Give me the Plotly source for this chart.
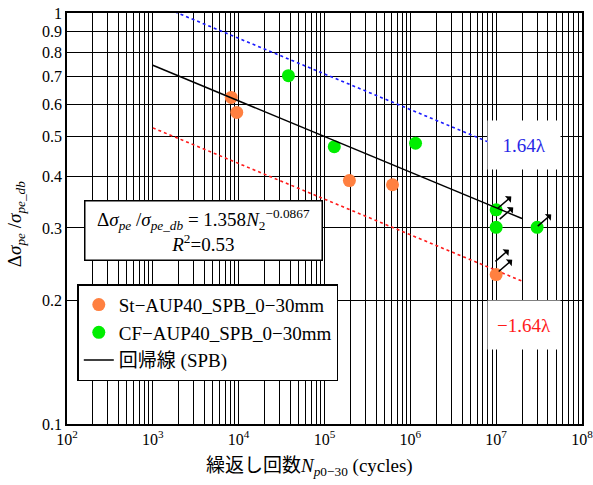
import numpy as np
import plotly.graph_objects as go

# ---- data ----
st_x = [8.2e3, 9.5e3, 1.95e5, 6.2e5, 1.0e7]
st_y = [0.623, 0.573, 0.391, 0.382, 0.231]
cf_x = [3.8e4, 1.3e5, 1.15e6, 1.0e7, 1.0e7, 3.0e7]
cf_y = [0.704, 0.473, 0.482, 0.332, 0.301, 0.301]

reg_coef = 1.358
reg_exp = -0.0867
reg_n = [1e3, 2e7]
band_factor = 1.42  # 1.64 lambda band

# run-out arrows (tail positions)
arrow_x = [1.045e7, 1.10e7, 3.05e7, 1.07e7, 9.8e6]
arrow_y = [0.335, 0.315, 0.303, 0.235, 0.2487]

x_tick_powers = [2, 3, 4, 5, 6, 7, 8]
y_tick_vals = [0.1, 0.2, 0.3, 0.4, 0.5, 0.6, 0.7, 0.8, 0.9, 1.0]
y_tick_text = ["0.1", "0.2", "0.3", "0.4", "0.5", "0.6", "0.7", "0.8", "0.9", "1"]

FONT = "'Liberation Serif', 'Times New Roman', 'Noto Sans CJK JP', serif"

reg_n_arr = np.array(reg_n)
reg_y = reg_coef * reg_n_arr ** reg_exp

fig = go.Figure()
fig.add_trace(go.Scatter(x=reg_n, y=list(reg_y * band_factor), mode="lines",
                         line=dict(color="#1a1aff", width=1.6, dash="3px,3px"),
                         showlegend=False, hoverinfo="skip"))
fig.add_trace(go.Scatter(x=reg_n, y=list(reg_y / band_factor), mode="lines",
                         line=dict(color="#ff1a1a", width=1.6, dash="3px,3px"),
                         showlegend=False, hoverinfo="skip"))
fig.add_trace(go.Scatter(x=st_x, y=st_y, mode="markers",
                         marker=dict(color="#ff8040", size=13),
                         name="St\u2212AUP40_SPB_0\u221230mm"))
fig.add_trace(go.Scatter(x=cf_x, y=cf_y, mode="markers",
                         marker=dict(color="#00ee00", size=13),
                         name="CF\u2212AUP40_SPB_0\u221230mm"))
fig.add_trace(go.Scatter(x=reg_n, y=list(reg_y), mode="lines",
                         line=dict(color="black", width=1.5),
                         name="回帰線 (SPB)"))

# ticks
x_tickvals, x_ticktext = [], []
for p in x_tick_powers[:-1]:
    for k in range(1, 10):
        x_tickvals.append(k * 10 ** p)
        x_ticktext.append(f"10<sup>{p}</sup>" if k == 1 else "")
x_tickvals.append(10 ** x_tick_powers[-1])
x_ticktext.append(f"10<sup>{x_tick_powers[-1]}</sup>")

fig.update_xaxes(type="log", range=[2, 8], tickvals=x_tickvals, ticktext=x_ticktext,
                 showgrid=True, gridcolor="black", gridwidth=1,
                 showline=True, linecolor="black", linewidth=1.5, mirror=True,
                 ticks="", zeroline=False, automargin=False, ticklabeloverflow="allow",
                 tickfont=dict(family=FONT, size=16, color="black"))
fig.update_yaxes(type="log", range=[-1, 0], tickvals=y_tick_vals, ticktext=y_tick_text,
                 showgrid=True, gridcolor="black", gridwidth=1,
                 showline=True, linecolor="black", linewidth=1.5, mirror=True,
                 ticks="", zeroline=False, automargin=False, ticklabeloverflow="allow",
                 tickfont=dict(family=FONT, size=16, color="black"))

annotations = []
for ax_, ay_ in zip(arrow_x, arrow_y):
    annotations.append(dict(x=np.log10(ax_), y=np.log10(ay_), xref="x", yref="y",
                            text="", showarrow=True, arrowside="start",
                            ax=15, ay=-13, axref="pixel", ayref="pixel",
                            arrowhead=2, arrowsize=1.3, arrowwidth=1.5, arrowcolor="black"))

annotations.append(dict(
    x=0.265, y=0.4715, xref="paper", yref="paper", xanchor="center", yanchor="middle",
    text="Δ<i>σ</i><sub><i>pe</i></sub> /<i>σ</i><sub><i>pe_db</i></sub> = 1.358<i>N</i><sub>2</sub><sup>\u22120.0867</sup><br><i>R</i><sup>2</sup>=0.53",
    showarrow=False, bgcolor="white", bordercolor="black", borderwidth=1.5,
    width=236, height=58, borderpad=0, align="center",
    font=dict(family=FONT, size=19, color="black")))
annotations.append(dict(
    x=0.887, y=0.680, xref="paper", yref="paper", xanchor="center", yanchor="middle",
    text="1.64λ", showarrow=False, bgcolor="white", width=70, height=46,
    font=dict(family=FONT, size=19, color="#2626e6")))
annotations.append(dict(
    x=0.887, y=0.240, xref="paper", yref="paper", xanchor="center", yanchor="middle",
    text="\u22121.64λ", showarrow=False, bgcolor="white", width=70, height=46,
    font=dict(family=FONT, size=19, color="#ff1a1a")))
annotations.append(dict(
    x=0.47, y=-0.104, xref="paper", yref="paper", xanchor="center", yanchor="middle",
    text="繰返し回数<i>N</i><sub><i>p</i>0\u221230</sub> (cycles)", showarrow=False,
    font=dict(family=FONT, size=19, color="black")))
annotations.append(dict(
    x=-0.1, y=0.485, xref="paper", yref="paper", xanchor="center", yanchor="middle",
    text="Δ<i>σ</i><sub><i>pe</i></sub> /<i>σ</i><sub><i>pe_db</i></sub>", showarrow=False,
    textangle=-90, font=dict(family=FONT, size=19, color="black")))

fig.update_layout(
    width=593, height=485,
    margin=dict(l=67, r=11, t=13, b=61),
    paper_bgcolor="white", plot_bgcolor="white",
    font=dict(family=FONT, size=16, color="black"),
    annotations=annotations,
    legend=dict(x=0.02, y=0.34, xanchor="left", yanchor="top",
                bgcolor="white", bordercolor="black", borderwidth=1.5,
                font=dict(family=FONT, size=19, color="black"),
                tracegroupgap=0),
    showlegend=True,
)

fig.write_html("out.html", config={"displayModeBar": False},
               post_script="document.body.style.margin='0px';")
